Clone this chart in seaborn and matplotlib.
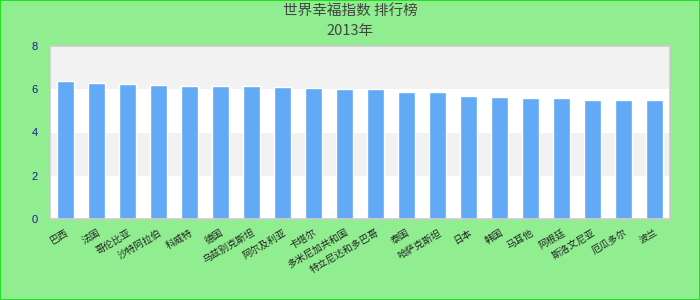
import matplotlib
matplotlib.use("Agg")
import matplotlib.pyplot as plt
import seaborn as sns
import pandas as pd
from matplotlib.patches import Rectangle

# ---- data ----
title_main = "世界幸福指数 排行榜"
title_sub = "2013年"
categories = ["巴西", "法国", "哥伦比亚", "沙特阿拉伯", "科威特", "德国",
              "乌兹别克斯坦", "阿尔及利亚", "卡塔尔", "多米尼加共和国",
              "特立尼达和多巴哥", "泰国", "哈萨克斯坦", "日本", "韩国",
              "马耳他", "阿根廷", "斯洛文尼亚", "厄瓜多尔", "波兰"]
values = [6.39, 6.30, 6.22, 6.21, 6.17, 6.16, 6.16, 6.12, 6.07, 6.03,
          6.02, 5.89, 5.88, 5.70, 5.62, 5.61, 5.60, 5.52, 5.51, 5.50]
y_ticks = [0, 2, 4, 6, 8]

sns.set_style("white")
plt.rcParams["font.family"] = ["Noto Sans CJK SC", "DejaVu Sans"]

df = pd.DataFrame({"category": categories, "value": values})

fig = plt.figure(figsize=(7, 3), dpi=100)
fig.patch.set_facecolor("#90ee90")
fig.patches.append(Rectangle((0, 0), 1, 1, transform=fig.transFigure,
                             fill=False, edgecolor="#22e022", linewidth=1.5,
                             zorder=10))

ax = fig.add_axes([50 / 700, 81 / 300, 620 / 700, 173 / 300])
ax.set_facecolor("white")

# alternating horizontal bands
for i in range(0, len(y_ticks) - 1):
    if i % 2 == 1:
        ax.axhspan(y_ticks[i], y_ticks[i + 1], color="#f2f2f2", zorder=0, lw=0)

sns.barplot(data=df, x="category", y="value", color="#62aaf5",
            saturation=1, width=0.55, ax=ax, zorder=2)

ax.set_xlim(-0.5, len(categories) - 0.5)
ax.set_ylim(0, 8)
ax.set_yticks(y_ticks)
ax.set_xlabel("")
ax.set_ylabel("")

for s in ax.spines.values():
    s.set_color("#cccccc")
    s.set_linewidth(1.2)

ax.tick_params(axis="y", length=0, pad=9, labelsize=8, labelcolor="#1a1a99")
ax.tick_params(axis="x", length=0, pad=6, labelsize=7, labelcolor="#222222")
for lab in ax.get_yticklabels():
    lab.set_family(["Arial", "Liberation Sans", "DejaVu Sans"])
plt.setp(ax.get_xticklabels(), rotation=30, ha="right", rotation_mode="anchor")

fig.text(0.5, 1 - 12 / 300, title_main, ha="center", va="center",
         fontsize=10.5, color="#444444")
fig.text(0.5, 1 - 31 / 300, title_sub, ha="center", va="center",
         fontsize=10.5, color="#444444")

fig.savefig("out.png", dpi=100, facecolor=fig.get_facecolor())
